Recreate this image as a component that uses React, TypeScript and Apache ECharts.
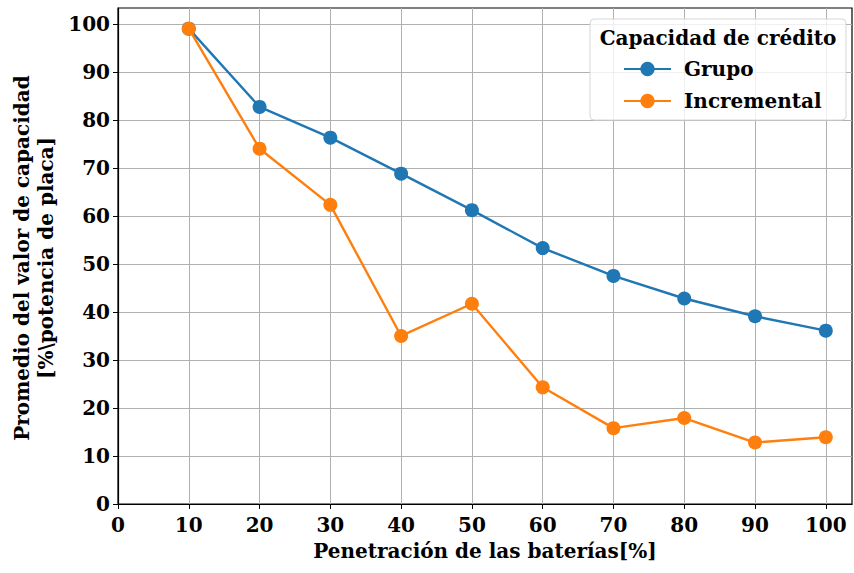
import React, { useEffect, useRef } from "react";
import * as echarts from "echarts";

const xValues = [10, 20, 30, 40, 50, 60, 70, 80, 90, 100];
const grupo = [99.0, 82.7, 76.3, 68.8, 61.2, 53.3, 47.5, 42.8, 39.1, 36.1];
const incremental = [99.0, 74.0, 62.3, 35.0, 41.7, 24.3, 15.8, 17.9, 12.8, 13.9];
const xTicks = [0, 10, 20, 30, 40, 50, 60, 70, 80, 90, 100];
const yTicks = [0, 10, 20, 30, 40, 50, 60, 70, 80, 90, 100];
const seriesNames = ["Grupo", "Incremental"];
const legendTitle = "Capacidad de crédito";
const xTitle = "Penetración de las baterías[%]";
const yTitleLines = ["Promedio del valor de capacidad", "[%\\potencia de placa]"];

const FONT = "'DejaVu Serif', 'Liberation Serif', serif";

export default function App() {
  const ref = useRef<HTMLDivElement>(null);
  useEffect(() => {
    if (!ref.current) return;
    const chart = echarts.init(ref.current, undefined, { renderer: "svg" });
    const axisText = { color: "#000", fontFamily: FONT, fontWeight: "bold" as const, fontSize: 20 };
    chart.setOption({
      animation: false,
      backgroundColor: "#fff",
      textStyle: { fontFamily: FONT },
      grid: {
        left: 118,
        right: 2,
        top: 8,
        bottom: 69,
        containLabel: false,
        outerBoundsMode: "none",
        show: true,
        borderColor: "#000",
        borderWidth: 1.2,
        backgroundColor: "transparent",
      },
      xAxis: {
        type: "value",
        min: 0,
        max: 103.7,
        interval: 10,
        axisLine: { show: true, onZero: false, lineStyle: { color: "#000", width: 1.2 } },
        axisTick: { show: true, length: 5, inside: false, customValues: xTicks, lineStyle: { color: "#000", width: 1 } },
        axisLabel: { ...axisText, margin: 11, customValues: xTicks },
        splitLine: { show: true, lineStyle: { color: "#b0b0b0", width: 1 } },
        name: xTitle,
        nameLocation: "middle",
        nameGap: 37,
        nameTextStyle: { ...axisText },
      },
      yAxis: {
        type: "value",
        min: 0,
        max: 103.3,
        interval: 10,
        axisLine: { show: true, onZero: false, lineStyle: { color: "#000", width: 1.2 } },
        axisTick: { show: true, length: 5, inside: false, customValues: yTicks, lineStyle: { color: "#000", width: 1 } },
        axisLabel: { ...axisText, margin: 8, customValues: yTicks },
        splitLine: { show: true, lineStyle: { color: "#b0b0b0", width: 1 } },
      },
      legend: {
        data: seriesNames,
        orient: "vertical",
        left: 618,
        top: 54,
        z: 10,
        itemWidth: 47,
        itemHeight: 18,
        itemGap: 12,
        textStyle: { ...axisText, padding: [0, 0, 0, 8] },
      },
      graphic: [
        {
          type: "rect",
          shape: { x: 590, y: 19, width: 256, height: 101, r: 4 },
          style: { fill: "rgba(255,255,255,0.8)", stroke: "#d6d6d6", lineWidth: 1 },
          z: 5,
        },
        {
          type: "text",
          x: 718,
          y: 38,
          z: 11,
          style: {
            text: legendTitle,
            fill: "#000",
            font: `bold 20px ${FONT}`,
            textAlign: "center",
            textVerticalAlign: "middle",
          },
        },
        {
          type: "text",
          x: 34,
          y: 258,
          rotation: Math.PI / 2,
          style: {
            text: yTitleLines.join("\n"),
            fill: "#000",
            font: `bold 20px ${FONT}`,
            lineHeight: 24,
            textAlign: "center",
            textVerticalAlign: "middle",
          },
        },
      ],
      series: [
        {
          name: seriesNames[0],
          type: "line",
          data: xValues.map((x, i) => [x, grupo[i]]),
          symbol: "circle",
          symbolSize: 14,
          color: "#1f77b4",
          lineStyle: { width: 2.4, color: "#1f77b4" },
          itemStyle: { color: "#1f77b4" },
          z: 3,
        },
        {
          name: seriesNames[1],
          type: "line",
          data: xValues.map((x, i) => [x, incremental[i]]),
          symbol: "circle",
          symbolSize: 14,
          color: "#ff7f0e",
          lineStyle: { width: 2.4, color: "#ff7f0e" },
          itemStyle: { color: "#ff7f0e" },
          z: 4,
        },
      ],
    });
    return () => chart.dispose();
  }, []);
  return <div ref={ref} style={{ width: 854, height: 573, position: "absolute", left: 0, top: 0 }} />;
}
